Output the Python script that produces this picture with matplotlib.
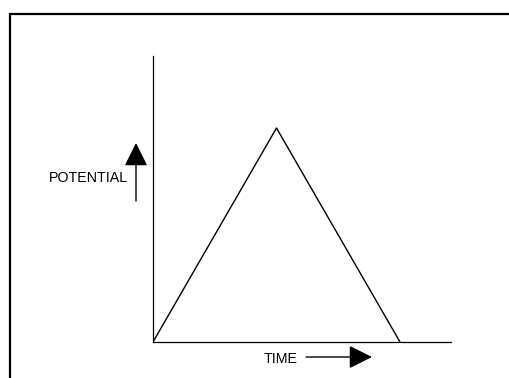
import matplotlib
matplotlib.use("Agg")
import matplotlib.pyplot as plt
from matplotlib.patches import Rectangle

# triangular potential sweep: up then back down
time = [0, 1, 2]
potential = [0, 1, 0]
x_label = "TIME"
y_label = "POTENTIAL"

W, H = 509, 378
fig = plt.figure(figsize=(W / 100, H / 100), dpi=100)
plt.rcParams['font.family'] = ['Liberation Sans', 'DejaVu Sans']

# outer frame (right and bottom edges run off the picture)
fig.patches.append(Rectangle((10 / W, -0.05), 1.2, (H - 14) / H + 0.05,
                             transform=fig.transFigure, fill=False,
                             lw=1.6, ec='black'))

# axes box in pixel terms: origin at (153, 342), top at y=56, right end x=451
ax = fig.add_axes([153 / W, (H - 342) / H, (451 - 153) / W, (342 - 56) / H])
ax.plot(time, potential, color='black', lw=1.0)
ax.set_xlim(0, 2 * 298 / 247)
ax.set_ylim(0, 286 / 214)
ax.set_xticks([])
ax.set_yticks([])
for s in ['top', 'right']:
    ax.spines[s].set_visible(False)
for s in ['left', 'bottom']:
    ax.spines[s].set_linewidth(0.9)

arrow = dict(arrowstyle='-|>,head_length=1.0,head_width=0.5', mutation_scale=14.4,
             lw=1.0, color='black', shrinkA=0, shrinkB=0)

fig.text(128 / W, (H - 178) / H, y_label, ha='right', va='center', fontsize=10.3)
ax.annotate('', xy=(136, H - 143), xytext=(136, H - 201),
            xycoords='figure pixels', textcoords='figure pixels', arrowprops=arrow)

fig.text(264 / W, (H - 359) / H, x_label, ha='left', va='center', fontsize=10.3)
ax.annotate('', xy=(372, H - 357), xytext=(306, H - 357),
            xycoords='figure pixels', textcoords='figure pixels', arrowprops=arrow)

fig.savefig("out.png", dpi=100)
